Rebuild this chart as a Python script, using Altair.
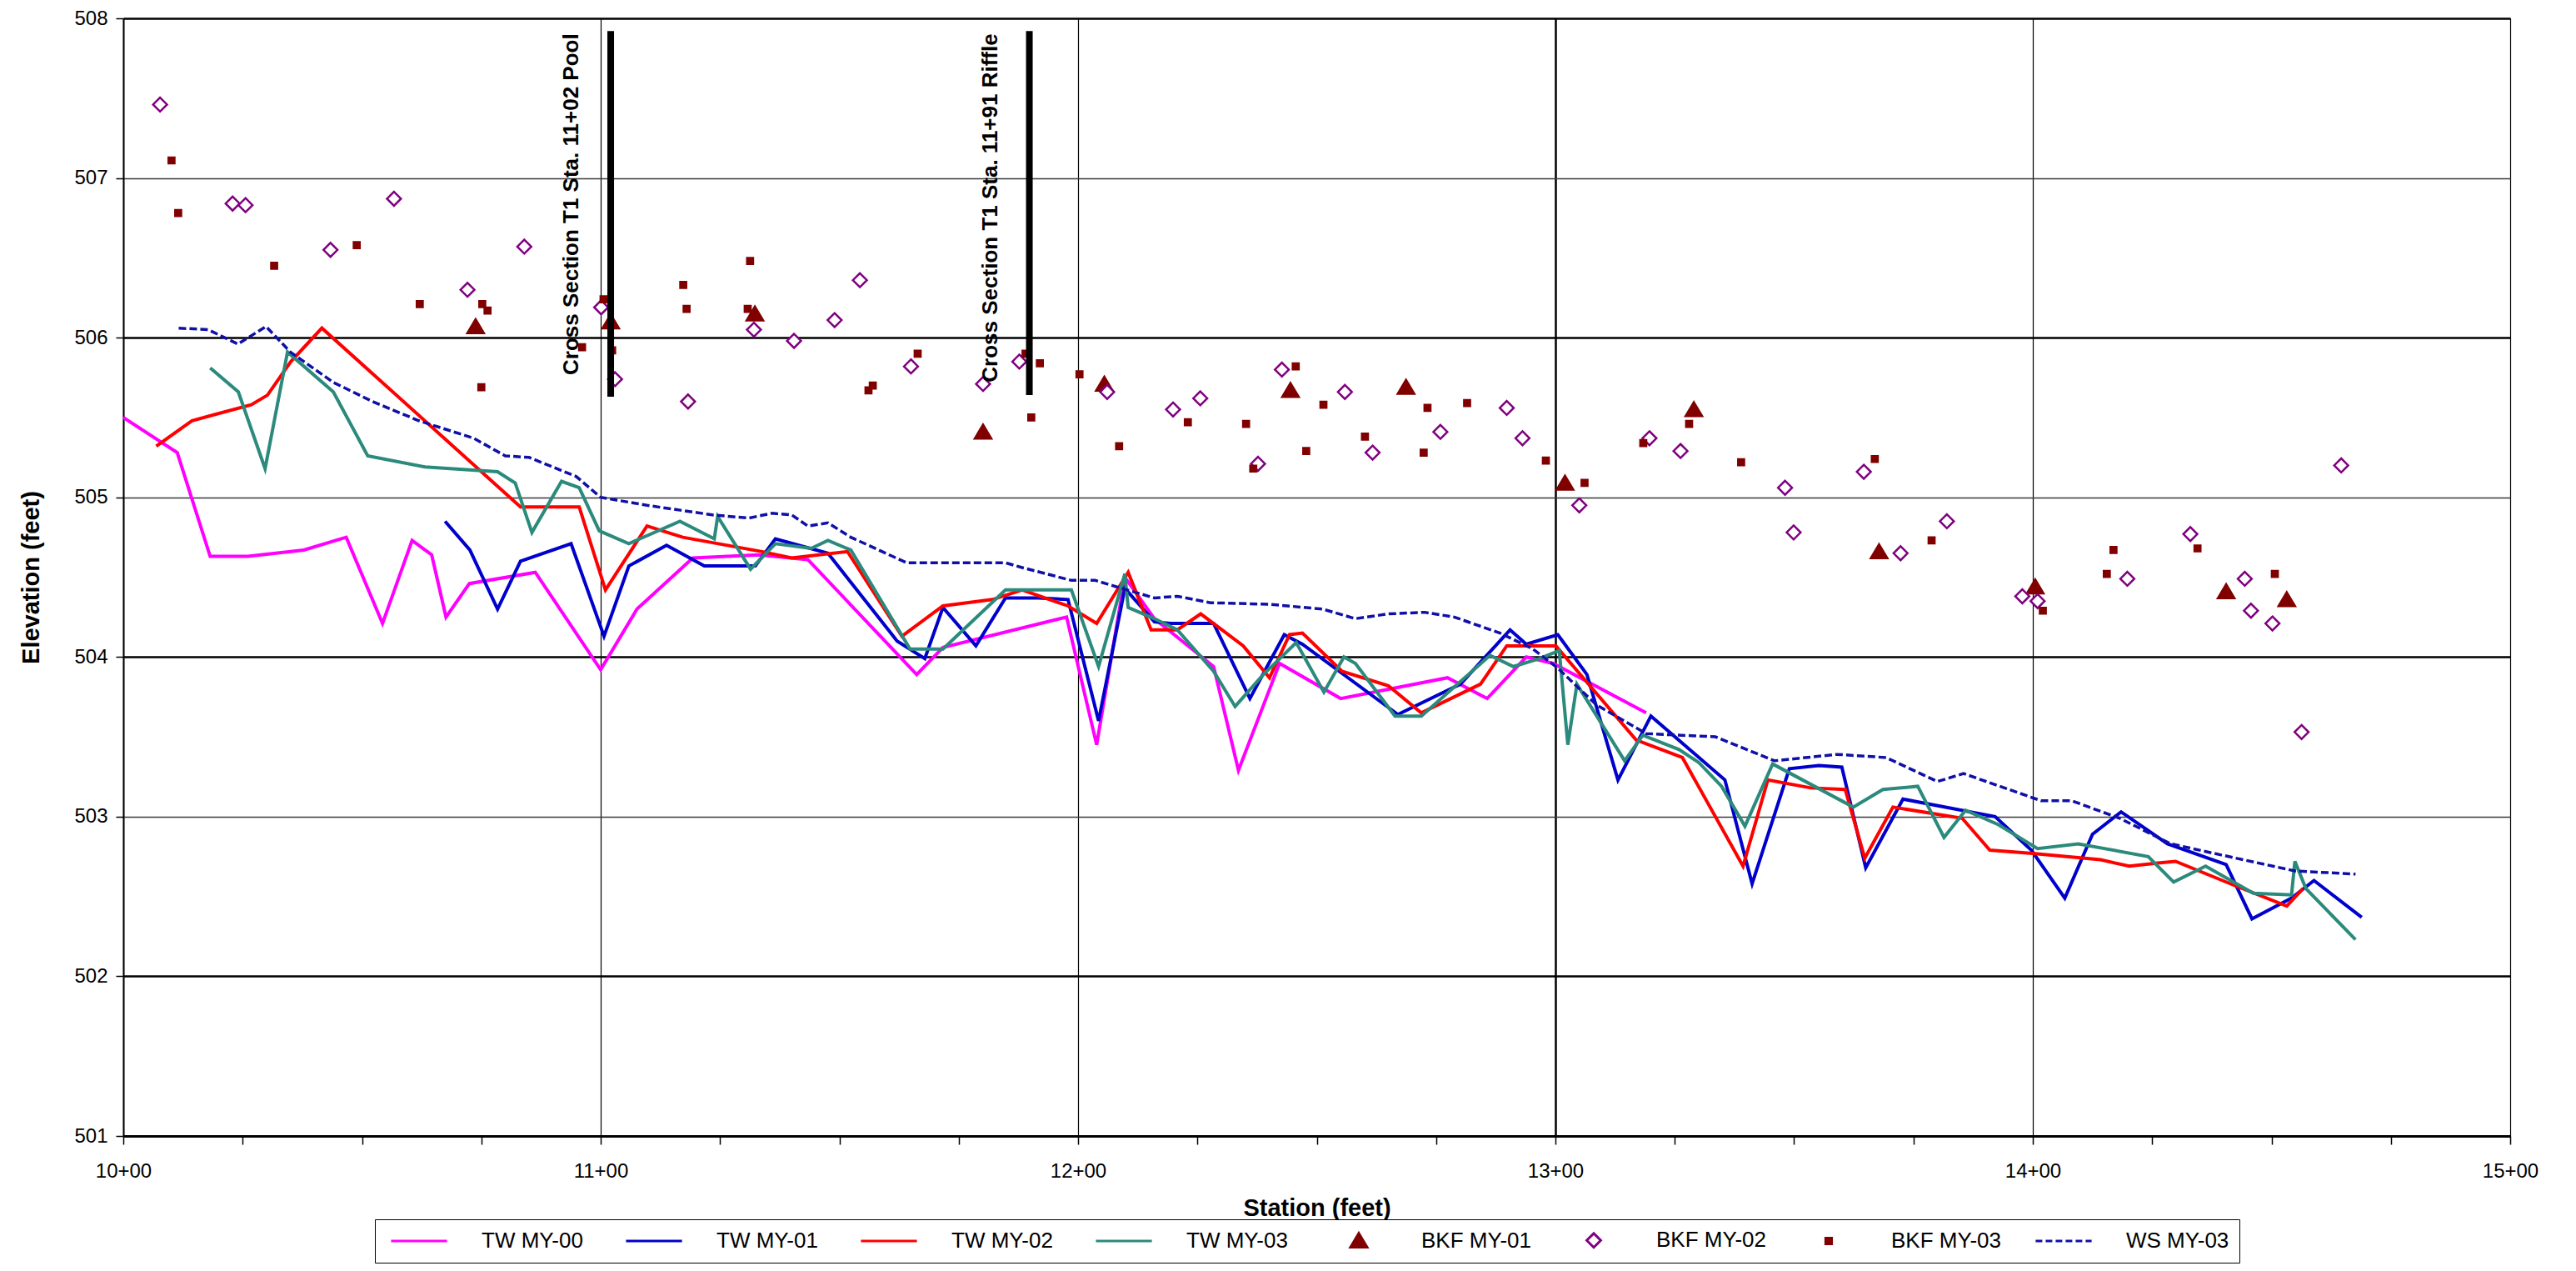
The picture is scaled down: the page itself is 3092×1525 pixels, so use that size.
import altair as alt
import pandas as pd

# ---------------- data ----------------
SERIES = ["TW MY-00", "TW MY-01", "TW MY-02", "TW MY-03",
          "BKF MY-01", "BKF MY-02", "BKF MY-03", "WS MY-03"]

tw00_sta = [1000, 1011.3, 1018.2, 1026.1, 1037.8, 1046.7, 1054.3, 1060.5, 1064.6, 1067.6,
            1072.5, 1086.3, 1100.0, 1107.6, 1119.3, 1133.1, 1143.4, 1166.2, 1171.7, 1197.6,
            1203.9, 1209.8, 1216.0, 1228.4, 1233.6, 1242.2, 1255.0, 1277.4, 1285.7, 1293.9,
            1299.5, 1319.0]
tw00_elev = [505.50, 505.28, 504.63, 504.63, 504.67, 504.75, 504.21, 504.73, 504.64, 504.25,
             504.46, 504.53, 503.92, 504.30, 504.62, 504.64, 504.61, 503.89, 504.06, 504.25,
             503.45, 504.50, 504.24, 503.94, 503.29, 503.96, 503.74, 503.87, 503.74, 504.00,
             503.96, 503.65]

tw01_sta = [1067.4, 1072.6, 1078.4, 1083.2, 1093.8, 1100.7, 1105.9, 1113.8, 1121.7, 1132.4,
            1136.6, 1147.6, 1162.1, 1167.9, 1171.7, 1178.6, 1184.8, 1191.7, 1197.9, 1204.3,
            1209.8, 1216.0, 1219.4, 1228.4, 1236.0, 1243.2, 1247.0, 1267.0, 1280.1, 1290.5,
            1293.9, 1300.5, 1306.6, 1313.1, 1320.0, 1335.5, 1341.2, 1349.0, 1355.2, 1360.0,
            1365.0, 1372.8, 1392.1, 1399.7, 1406.7, 1412.5, 1418.5, 1428.2, 1440.5, 1445.9,
            1454.2, 1458.9, 1468.9]
tw01_elev = [504.85, 504.67, 504.30, 504.60, 504.71, 504.13, 504.57, 504.70, 504.57, 504.57,
             504.74, 504.65, 504.10, 503.99, 504.31, 504.07, 504.37, 504.37, 504.36, 503.60,
             504.43, 504.22, 504.21, 504.21, 503.74, 504.14, 504.08, 503.64, 503.83, 504.17,
             504.08, 504.14, 503.89, 503.23, 503.63, 503.23, 502.58, 503.30, 503.32, 503.31,
             502.68, 503.11, 503.00, 502.79, 502.49, 502.89, 503.03, 502.83, 502.70, 502.36,
             502.49, 502.60, 502.37]

tw02_sta = [1006.9, 1014.4, 1026.8, 1030.2, 1035.1, 1041.6, 1083.2, 1095.5, 1101.0, 1109.7,
            1117.2, 1133.8, 1140.0, 1151.7, 1163.1, 1171.7, 1182.1, 1188.3, 1197.9, 1203.9,
            1210.5, 1215.3, 1220.8, 1225.7, 1234.6, 1240.1, 1244.3, 1247.0, 1255.3, 1265.0,
            1271.9, 1284.3, 1289.8, 1300.1, 1316.9, 1326.6, 1339.3, 1344.5, 1353.5, 1360.7,
            1364.8, 1370.7, 1385.2, 1391.0, 1400.0, 1414.2, 1420.2, 1426.2, 1429.9, 1442.2,
            1453.2, 1456.6]
tw02_elev = [505.32, 505.48, 505.58, 505.64, 505.85, 506.06, 504.94, 504.94, 504.42, 504.82,
             504.75, 504.66, 504.62, 504.66, 504.13, 504.32, 504.36, 504.42, 504.32, 504.21,
             504.53, 504.17, 504.17, 504.27, 504.07, 503.87, 504.14, 504.15, 503.91, 503.82,
             503.65, 503.83, 504.07, 504.07, 503.48, 503.37, 502.69, 503.23, 503.18, 503.17,
             502.74, 503.06, 502.99, 502.79, 502.77, 502.73, 502.69, 502.71, 502.72, 502.57,
             502.44, 502.55]

tw03_sta = [1018.2, 1024.1, 1029.7, 1034.4, 1044.0, 1051.2, 1063.2, 1078.4, 1082.1, 1085.6,
            1091.8, 1095.5, 1099.7, 1105.9, 1116.6, 1123.8, 1124.5, 1131.4, 1136.6, 1144.1,
            1147.6, 1152.4, 1164.8, 1171.7, 1184.8, 1198.6, 1204.3, 1209.8, 1210.5, 1216.0,
            1220.8, 1228.4, 1232.9, 1238.8, 1245.7, 1251.5, 1255.7, 1258.1, 1266.4, 1271.9,
            1286.3, 1291.2, 1296.7, 1300.8, 1302.6, 1304.5, 1314.5, 1318.3, 1325.9, 1330.0,
            1334.8, 1339.7, 1345.5, 1362.4, 1368.6, 1375.9, 1381.4, 1385.9, 1392.8, 1401.0,
            1409.5, 1424.2, 1429.5, 1436.2, 1446.2, 1454.2, 1454.9, 1457.2, 1467.6]
tw03_elev = [505.81, 505.66, 505.18, 505.91, 505.66, 505.26, 505.19, 505.16, 505.09, 504.78,
             505.10, 505.06, 504.79, 504.71, 504.85, 504.74, 504.88, 504.55, 504.71, 504.68,
             504.73, 504.67, 504.05, 504.05, 504.42, 504.42, 503.94, 504.52, 504.31, 504.24,
             504.17, 503.91, 503.69, 503.89, 504.09, 503.78, 504.00, 503.96, 503.63, 503.63,
             504.01, 503.94, 503.99, 504.04, 503.45, 503.83, 503.35, 503.51, 503.42, 503.34,
             503.19, 502.94, 503.33, 503.06, 503.17, 503.19, 502.87, 503.04, 502.95, 502.80,
             502.83, 502.75, 502.59, 502.69, 502.52, 502.51, 502.72, 502.55, 502.23]

ws03_sta = [1011.6, 1017.8, 1024.0, 1029.9, 1035.0, 1044.0, 1052.2, 1061.9, 1073.4, 1080.0,
            1085.0, 1094.9, 1100.0, 1109.7, 1123.4, 1131.0, 1135.9, 1140.0, 1143.4, 1147.6,
            1152.4, 1164.1, 1184.8, 1188.3, 1198.6, 1203.6, 1209.1, 1216.0, 1220.8, 1227.7,
            1240.1, 1251.2, 1258.1, 1265.0, 1272.6, 1278.8, 1288.4, 1295.3, 1300.5, 1308.6,
            1319.0, 1333.5, 1345.9, 1359.0, 1369.3, 1380.0, 1385.5, 1401.7, 1408.1, 1418.2,
            1428.9, 1439.5, 1454.9, 1467.6]
ws03_elev = [506.06, 506.05, 505.96, 506.07, 505.91, 505.72, 505.60, 505.48, 505.37, 505.26,
             505.25, 505.13, 505.00, 504.95, 504.89, 504.87, 504.90, 504.89, 504.82, 504.84,
             504.75, 504.59, 504.59, 504.56, 504.48, 504.48, 504.43, 504.37, 504.38, 504.34,
             504.33, 504.30, 504.24, 504.27, 504.28, 504.25, 504.15, 504.05, 503.93, 503.70,
             503.52, 503.50, 503.35, 503.39, 503.37, 503.22, 503.27, 503.10, 503.10, 502.99,
             502.83, 502.76, 502.66, 502.64]

bkf01_sta = [1073.8, 1102.1, 1132.3, 1180.1, 1205.5, 1244.5, 1268.7, 1302.0, 1329.0, 1367.8,
             1400.5, 1440.5, 1453.2]
bkf01_elev = [506.07, 506.10, 506.15, 505.41, 505.71, 505.67, 505.69, 505.09, 505.55, 504.66,
              504.44, 504.41, 504.36]

bkf02_sta = [1007.7, 1022.9, 1025.6, 1043.4, 1056.7, 1072.1, 1084.0, 1100.1, 1103.0, 1118.3,
             1132.1, 1140.5, 1149.0, 1154.3, 1165.0, 1180.1, 1187.7, 1206.1, 1219.9, 1225.6,
             1237.7, 1242.7, 1255.9, 1261.7, 1275.9, 1289.8, 1293.1, 1305.0, 1319.7, 1326.2,
             1348.1, 1349.9, 1364.6, 1372.3, 1382.0, 1397.8, 1401.0, 1419.8, 1433.0, 1444.4,
             1445.7, 1450.2, 1456.3, 1464.6]
bkf02_elev = [507.46, 506.84, 506.83, 506.55, 506.87, 506.30, 506.57, 506.19, 505.74, 505.60,
              506.05, 505.98, 506.11, 506.36, 505.82, 505.71, 505.85, 505.66, 505.55, 505.62,
              505.21, 505.80, 505.66, 505.28, 505.41, 505.56, 505.37, 504.95, 505.37, 505.29,
              505.06, 504.78, 505.16, 504.65, 504.85, 504.38, 504.35, 504.49, 504.77, 504.49,
              504.29, 504.21, 503.53, 505.20]

bkf03_sta = [1010.1, 1011.5, 1031.6, 1048.9, 1062.1, 1075.2, 1076.3, 1075.0, 1096.1, 1100.6,
             1102.4, 1117.3, 1118.0, 1131.3, 1130.8, 1156.1, 1157.0, 1166.4, 1189.0, 1192.0,
             1190.2, 1200.3, 1208.6, 1223.0, 1235.2, 1236.7, 1245.6, 1247.8, 1251.4, 1260.1,
             1272.4, 1273.2, 1281.5, 1298.0, 1306.1, 1318.4, 1328.0, 1338.9, 1366.9, 1378.8,
             1402.1, 1415.5, 1416.9, 1434.5, 1450.7]
bkf03_elev = [507.11, 506.78, 506.45, 506.58, 506.21, 506.21, 506.17, 505.69, 505.94, 506.24,
              505.92, 506.33, 506.18, 506.48, 506.18, 505.67, 505.70, 505.90, 505.90, 505.84,
              505.50, 505.77, 505.32, 505.47, 505.46, 505.18, 505.82, 505.29, 505.58, 505.38,
              505.28, 505.56, 505.59, 505.23, 505.09, 505.34, 505.46, 505.22, 505.24, 504.73,
              504.29, 504.52, 504.67, 504.68, 504.52]

xs_sta = [1102.1, 1189.8]
xs_top = [507.92, 507.92]
xs_bottom = [505.63, 505.64]
xs_label = ["Cross Section T1 Sta. 11+02 Pool", "Cross Section T1 Sta. 11+91 Riffle"]

# ---------------- styling ----------------
FONT = "Liberation Sans"
TW_COLORS = ["#ff00ff", "#0000cc", "#ff0000", "#2b8a7c"]
WS_COLOR = "#1010a8"
# symbol paths (unit = sqrt(size)/2 px); lines are long, markers compact
LINE_SYM = "M-4.2,0H4.2"
DASH_SYM = "M-4.2,0H-3.2M-2.7,0H-1.7M-1.2,0H-0.2M0.3,0H1.3M1.8,0H2.8M3.3,0H4.2"
TRI_SYM = "M0,-1.1L1.25,1.0L-1.25,1.0Z"
DIA_SYM = "M0,-1.05L1.05,0L0,1.05L-1.05,0Z"
SQ_SYM = "M-0.45,-0.45H0.45V0.45H-0.45Z"
SYM_SIZE = 256


def frame(name, sta, elev):
    return pd.DataFrame({"series": name, "station": sta, "elev": elev})


tw_df = pd.concat([frame("TW MY-00", tw00_sta, tw00_elev),
                   frame("TW MY-01", tw01_sta, tw01_elev),
                   frame("TW MY-02", tw02_sta, tw02_elev),
                   frame("TW MY-03", tw03_sta, tw03_elev)], ignore_index=True)
ws_df = frame("WS MY-03", ws03_sta, ws03_elev)
pt_df = pd.concat([frame("BKF MY-01", bkf01_sta, bkf01_elev),
                   frame("BKF MY-02", bkf02_sta, bkf02_elev),
                   frame("BKF MY-03", bkf03_sta, bkf03_elev)], ignore_index=True)
xs_df = pd.DataFrame({"station": xs_sta, "elev": xs_top, "elev2": xs_bottom, "label": xs_label})

x_enc = alt.X(
    "station:Q",
    scale=alt.Scale(domain=[1000, 1500], nice=False, zero=False),
    axis=alt.Axis(
        title="Station (feet)",
        values=list(range(1000, 1501, 25)),
        labelExpr="datum.value % 100 == 0 ? floor(datum.value / 100) + '+00' : ''",
        grid=True,
        gridColor="#000000",
        gridOpacity={"condition": {"test": "datum.value % 100 != 0", "value": 0}, "value": 1},
        gridWidth={"condition": {"test": "datum.value == 1300", "value": 2.5}, "value": 1.2},
        tickSize=10, tickColor="#000000", tickWidth=1.5,
        domainColor="#000000", domainWidth=3,
        labelFont=FONT, labelFontSize=24, labelColor="#000000", labelPadding=20,
        labelOverlap=False, labelFlush=False,
        titleFont=FONT, titleFontSize=29, titleFontWeight="bold", titleColor="#000000",
        titlePadding=18,
    ),
)
y_enc = alt.Y(
    "elev:Q",
    scale=alt.Scale(domain=[501, 508], nice=False, zero=False),
    axis=alt.Axis(
        title="Elevation (feet)",
        values=list(range(501, 509)),
        format="d",
        grid=True,
        gridColor={"condition": {"test": "datum.value % 2 == 0", "value": "#000000"}, "value": "#3a3a3a"},
        gridWidth={"condition": {"test": "datum.value % 2 == 0", "value": 2.5}, "value": 1.3},
        tickSize=9, tickColor="#000000", tickWidth=1.5,
        domainColor="#000000", domainWidth=2,
        labelFont=FONT, labelFontSize=24, labelColor="#000000", labelPadding=10,
        titleFont=FONT, titleFontSize=29, titleFontWeight="bold", titleColor="#000000",
        titlePadding=36,
    ),
)

legend = alt.Legend(
    title=None, orient="none", legendX=302, legendY=1441,
    direction="horizontal", columns=8, gridAlign="all", columnPadding=34,
    labelFont=FONT, labelFontSize=26, labelColor="#000000", labelOffset=62, labelLimit=400,
    symbolOffset=28, symbolStrokeWidth=3, symbolOpacity=1,
    strokeColor="#000000", fillColor="#ffffff", padding=12,
)

fill_scale = alt.Scale(domain=SERIES, range=["transparent"] * 4 + ["#800000", "#ffffff", "#800000", "transparent"])
stroke_scale = alt.Scale(domain=SERIES, range=TW_COLORS + ["#800000", "#800080", "#800000", WS_COLOR])
shape_scale = alt.Scale(domain=SERIES, range=[LINE_SYM] * 4 + [TRI_SYM, DIA_SYM, SQ_SYM, DASH_SYM])

tw_lines = alt.Chart(tw_df).mark_line(strokeWidth=4).encode(
    x=x_enc, y=y_enc,
    color=alt.Color("series:N", scale=alt.Scale(domain=SERIES[:4], range=TW_COLORS), legend=None),
    detail="series:N",
)

ws_line = alt.Chart(ws_df).mark_line(strokeWidth=3.5, strokeDash=[9, 4], color=WS_COLOR).encode(
    x=x_enc, y=y_enc,
)

points = alt.Chart(pt_df).mark_point(opacity=1, strokeWidth=2.5, size=SYM_SIZE).encode(
    x=x_enc, y=y_enc,
    fill=alt.Fill("series:N", scale=fill_scale, legend=legend),
    stroke=alt.Stroke("series:N", scale=stroke_scale, legend=legend),
    shape=alt.Shape("series:N", scale=shape_scale, legend=legend),
)

xs_rules = alt.Chart(xs_df).mark_rule(strokeWidth=8, color="#000000").encode(
    x=x_enc, y=y_enc, y2="elev2:Q",
)

xs_text = alt.Chart(xs_df).mark_text(
    angle=270, align="right", baseline="bottom", dy=-34, dx=-3,
    font=FONT, fontSize=26, fontWeight="bold", color="#000000",
).encode(x=x_enc, y=y_enc, text="label:N")

chart = alt.layer(tw_lines, ws_line, points, xs_rules, xs_text).properties(
    width=2865, height=1341,
    autosize=alt.AutoSizeParams(type="none"),
    padding={"left": 140, "top": 14, "right": 60, "bottom": 153},
    background="#ffffff",
).configure_view(stroke="#000000", strokeWidth=1).configure_legend(symbolSize=SYM_SIZE)

chart.save("out.html", embed_options={"renderer": "svg", "actions": False})
